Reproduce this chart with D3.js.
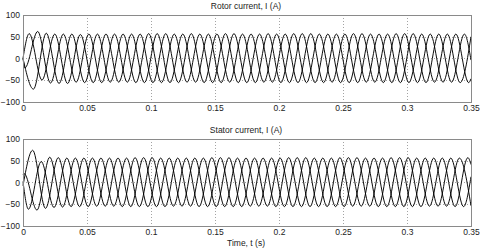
<!DOCTYPE html>
<html><head><meta charset="utf-8">
<script src="https://cdn.jsdelivr.net/npm/d3@7"></script>
<style>
body{margin:0;background:#fff}
svg{display:block;font-family:"Liberation Sans",Arial,sans-serif}
</style></head>
<body><svg id="c" width="480" height="248"></svg>
<script>
// ---- data ----
const xTicks = [0, 0.05, 0.1, 0.15, 0.2, 0.25, 0.3, 0.35];
const yTicks = [-100, -50, 0, 50, 100];
const titles = ["Rotor current, I (A)", "Stator current, I (A)"];
const xLabel = "Time, t (s)";

// extremum time grids (one extremum every 1/6 period of the 50 Hz waveform)
const rotorGridStart = 0.0015, statorGridStart = 0.0009, gridStep = 1/300, gridCount = 105;

// rotor phases: values at successive extrema (phase k has its extrema at grid index k, k+3, ...)
const rotorStart = [0, 0, 0];
const rotorEnd = [50, -4, -47];
const rotorP0 = [-22, 62, -57, 56, -55, 56, -56, 56, -55, 56, -56, 57, -56, 57, -56, 56, -55, 56, -56, 57, -56, 57, -56, 56, -55, 56, -56, 56, -56, 57, -56, 56, -55, 56, -56];
const rotorP1 = [57, -50, 56, -58, 55, -56, 56, -55, 56, -56, 57, -56, 56, -55, 56, -56, 57, -56, 56, -55, 56, -56, 57, -56, 56, -56, 57, -55, 56, -56, 57, -56, 56, -55, 56];
const rotorP2 = [-71, 58, -58, 56, -56, 56, -55, 56, -56, 57, -56, 56, -55, 56, -56, 57, -56, 56, -55, 56, -56, 57, -56, 56, -56, 57, -55, 56, -56, 57, -56, 56, -55, 56, -56];

// stator phases
const statorStart = [17, 2, -8];
const statorEnd = [-54, 13, 41];
const statorP0 = [20, -64, 58, -57, 56, -56, 56, -55, 56, -56, 57, -56, 56, -55, 56, -56, 57, -56, 56, -55, 56, -56, 57, -56, 56, -56, 57, -55, 56, -56, 57, -56, 56, -55, 56];
const statorP1 = [-62, 48, -58, 56, -56, 56, -55, 56, -56, 57, -56, 56, -55, 56, -56, 57, -56, 56, -55, 56, -56, 57, -56, 56, -56, 57, -55, 56, -56, 57, -56, 56, -55, 56, -56];
const statorP2 = [74, -60, 57, -56, 56, -55, 56, -56, 57, -56, 56, -55, 56, -56, 57, -56, 56, -55, 56, -56, 57, -56, 56, -56, 57, -55, 56, -56, 57, -56, 56, -55, 56, -56, 57];

// ---- drawing ----
const svg = d3.select("#c");
const x = d3.scaleLinear().domain([0, 0.35]).range([23, 471]);
const panels = [
  {title: titles[0], top: 15, bottom: 101.7, grid: rotorGridStart, start: rotorStart, end: rotorEnd, phases: [rotorP0, rotorP1, rotorP2]},
  {title: titles[1], top: 139, bottom: 225.7, grid: statorGridStart, start: statorStart, end: statorEnd, phases: [statorP0, statorP1, statorP2]}
];
const gridCol = "#8c8c8c", frameCol = "#8a8a8a", txt = "#222";

panels.forEach(p => {
  const y = d3.scaleLinear().domain([-100, 100]).range([p.bottom, p.top]);
  const g = svg.append("g");
  // grid
  g.selectAll(".gx").data(xTicks.slice(1, -1)).join("line")
    .attr("x1", d => Math.round(x(d)) + 0.5).attr("x2", d => Math.round(x(d)) + 0.5)
    .attr("y1", p.top).attr("y2", p.bottom)
    .attr("stroke", gridCol).attr("stroke-width", 0.8).attr("stroke-dasharray", "1,2");
  g.selectAll(".gy").data(yTicks.slice(1, -1)).join("line")
    .attr("y1", d => Math.round(y(d)) + 0.5).attr("y2", d => Math.round(y(d)) + 0.5)
    .attr("x1", x(0)).attr("x2", x(0.35))
    .attr("stroke", gridCol).attr("stroke-width", 0.8).attr("stroke-dasharray", "1,2");

  // curves
  const times = d3.range(gridCount).map(i => p.grid + i * gridStep);
  const line = d3.line().x(d => x(d[0])).y(d => y(d[1])).curve(d3.curveMonotoneX);
  p.phases.forEach((vals, k) => {
    const pts = [[0, p.start[k]]];
    vals.forEach((v, j) => pts.push([times[k + 3 * j], v]));
    pts.push([0.35, p.end[k]]);
    g.append("path").attr("d", line(pts)).attr("fill", "none")
      .attr("stroke", "#000").attr("stroke-width", 0.95);
  });

  // frame
  g.append("rect").attr("x", x(0) + 0.5).attr("y", Math.round(p.top) + 0.5)
    .attr("width", x(0.35) - x(0)).attr("height", Math.round(p.bottom) - Math.round(p.top))
    .attr("fill", "none").attr("stroke", frameCol).attr("stroke-width", 1);

  // axes
  const ax = d3.axisBottom(x).tickValues(xTicks).tickSize(0).tickPadding(0)
    .tickFormat(d => d === 0 ? "0" : d3.format("")(+d.toFixed(2)));
  const axG = g.append("g").attr("transform", `translate(0,${p.bottom + 9.5})`).call(ax);
  axG.select(".domain").remove();
  axG.selectAll("text").attr("fill", txt).attr("font-size", 8.5).attr("font-family", "Liberation Sans, Arial, sans-serif").attr("dy", "0");
  const ay = d3.axisLeft(y).tickValues(yTicks).tickSize(0).tickPadding(3);
  const ayG = g.append("g").attr("transform", `translate(${x(0)},0)`).call(ay);
  ayG.select(".domain").remove();
  ayG.selectAll("text").attr("fill", txt).attr("font-size", 8.5).attr("font-family", "Liberation Sans, Arial, sans-serif");

  g.append("text").attr("x", 246).attr("y", p.top - 6.5).attr("text-anchor", "middle")
    .attr("font-size", 8.5).attr("fill", txt).text(p.title);
});
svg.append("text").attr("x", 246).attr("y", 245.5).attr("text-anchor", "middle")
  .attr("font-size", 8.5).attr("fill", txt).text(xLabel);
</script></body></html>
